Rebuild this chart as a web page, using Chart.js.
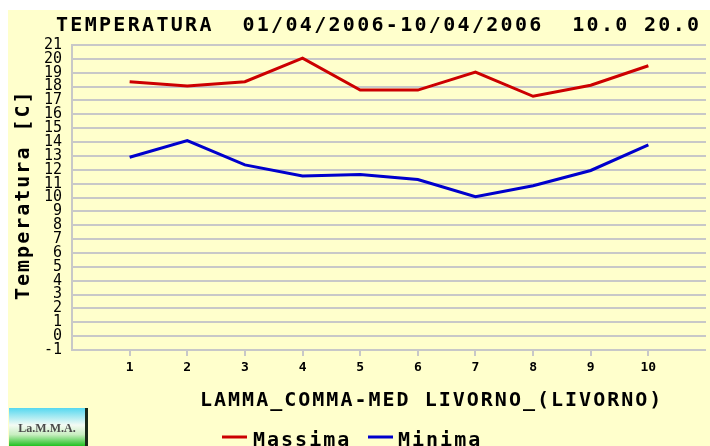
<!DOCTYPE html>
<html>
<head>
<meta charset="utf-8">
<script src="https://cdn.jsdelivr.net/npm/chart.js@4"></script>
<style>
  html, body { margin: 0; padding: 0; background: #ffffff; }
  #wrap { width: 710px; height: 446px; }
</style>
</head>
<body>
<div id="wrap"><canvas id="cTemp" width="710" height="446"></canvas></div>
<script>
// dati
const giorni = [1, 2, 3, 4, 5, 6, 7, 8, 9, 10];
const massima = [18.35, 18.05, 18.35, 20.05, 17.75, 17.75, 19.05, 17.3, 18.1, 19.5];
const minima = [12.9, 14.1, 12.35, 11.55, 11.65, 11.3, 10.05, 10.85, 11.95, 13.8];

const titolo = 'TEMPERATURA  01/04/2006-10/04/2006  10.0 20.0';
const stazione = 'LAMMA_COMMA-MED LIVORNO_(LIVORNO)';
const titoloY = 'Temperatura [C]';
const nomiSerie = ['Massima', 'Minima'];

const GIALLO = '#ffffcc';
const GRIGIO = '#c8c8c8';
const FONT = '"DejaVu Sans Mono", "Liberation Mono", monospace';

function punti(vals) {
    return giorni.map((g, i) => ({ x: g, y: vals[i] }));
}

// testo con spaziatura larga (font bitmap dell'originale)
function scrivi(ctx, txt, x, y, spacing) {
    ctx.save();
    if ('letterSpacing' in ctx) {
        ctx.letterSpacing = spacing + 'px';
        ctx.fillText(txt, x, y);
    } else {
        let cx = x;
        for (const ch of txt) {
            ctx.fillText(ch, cx, y);
            cx += ctx.measureText(ch).width + spacing;
        }
    }
    ctx.restore();
}

const sfondo = {
    id: 'sfondo',
    beforeDraw(chart) {
        const ctx = chart.ctx;
        ctx.save();
        ctx.fillStyle = '#ffffff';
        ctx.fillRect(0, 0, chart.width, chart.height);
        ctx.fillStyle = GIALLO;
        ctx.fillRect(8, 10, chart.width - 8, chart.height - 10);
        ctx.restore();
    }
};

const testi = {
    id: 'testi',
    afterDraw(chart) {
        const ctx = chart.ctx;
        ctx.save();
        ctx.fillStyle = '#000000';
        ctx.font = 'bold 20px ' + FONT;
        ctx.textBaseline = 'alphabetic';
        ctx.textAlign = 'left';

        // titolo e stazione
        scrivi(ctx, titolo, 56, 31, 2.3);
        scrivi(ctx, stazione, 200, 406, 2);

        // titolo asse y
        ctx.save();
        ctx.translate(29, 300);
        ctx.rotate(-Math.PI / 2);
        scrivi(ctx, titoloY, 0, 0, 2);
        ctx.restore();

        // legenda
        const ds = chart.data.datasets;
        const leg = [[222, 253], [368, 398]];
        ds.forEach((d, i) => {
            ctx.strokeStyle = d.borderColor;
            ctx.lineWidth = 3;
            ctx.beginPath();
            ctx.moveTo(leg[i][0], 437);
            ctx.lineTo(leg[i][0] + 25, 437);
            ctx.stroke();
            ctx.fillStyle = '#000000';
            scrivi(ctx, nomiSerie[i], leg[i][1], 446, 2);
        });

        // logo LaMMA
        const g = ctx.createLinearGradient(0, 408, 0, 446);
        g.addColorStop(0, '#55d8f0');
        g.addColorStop(0.45, '#f4fbf4');
        g.addColorStop(0.7, '#c8eec0');
        g.addColorStop(1, '#20c020');
        ctx.fillStyle = g;
        ctx.fillRect(9, 408, 77, 38);
        ctx.fillStyle = '#1a2a1a';
        ctx.fillRect(85, 408, 3, 38);
        ctx.fillStyle = '#4a4a4a';
        ctx.font = 'bold 12px "Liberation Serif", serif';
        ctx.textAlign = 'center';
        ctx.fillText('La.M.M.A.', 47, 432);
        ctx.restore();
    }
};

new Chart(document.getElementById('cTemp').getContext('2d'), {
    type: 'line',
    data: {
        datasets: [
            { label: nomiSerie[0], data: punti(massima), borderColor: '#cc0000', borderWidth: 3 },
            { label: nomiSerie[1], data: punti(minima), borderColor: '#0000cc', borderWidth: 3 }
        ]
    },
    options: {
        responsive: false,
        animation: false,
        devicePixelRatio: 1,
        layout: { padding: { top: 45, left: 0, right: 0, bottom: 0 } },
        plugins: {
            legend: { display: false },
            title: { display: false },
            tooltip: { enabled: false }
        },
        elements: {
            point: { radius: 0 },
            line: { tension: 0 }
        },
        scales: {
            x: {
                type: 'linear',
                min: 0,
                max: 11,
                afterFit: (s) => { s.height = 96; },
                border: { display: false },
                grid: {
                    drawOnChartArea: false,
                    drawTicks: true,
                    tickLength: 6,
                    lineWidth: 2,
                    color: (c) => (c.tick && (c.tick.value === 0 || c.tick.value === 11)) ? 'rgba(0,0,0,0)' : GRIGIO
                },
                ticks: {
                    stepSize: 1,
                    autoSkip: false,
                    maxRotation: 0,
                    padding: 4,
                    color: '#000000',
                    font: { family: FONT, size: 13, weight: 'bold' },
                    callback: (v) => (v >= 1 && v <= 10) ? String(v) : ''
                }
            },
            y: {
                min: -1,
                max: 21,
                afterFit: (s) => { s.width = 72; },
                border: { display: true, color: GRIGIO, width: 2 },
                grid: {
                    drawTicks: false,
                    color: GRIGIO,
                    lineWidth: 2
                },
                ticks: {
                    stepSize: 1,
                    autoSkip: false,
                    maxTicksLimit: 100,
                    padding: 10,
                    color: '#000000',
                    font: { family: FONT, size: 15 }
                }
            }
        }
    },
    plugins: [sfondo, testi]
});
</script>
</body>
</html>
